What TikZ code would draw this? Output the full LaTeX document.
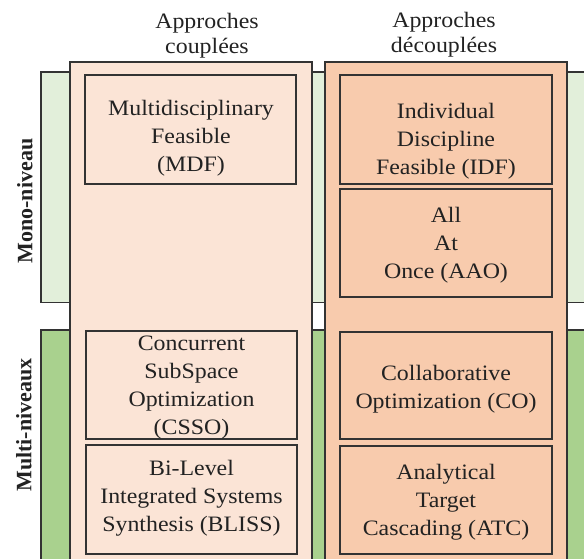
\documentclass[tikz,border=0pt]{standalone}
\usepackage{fontspec}
\setmainfont{Liberation Serif}[FakeStretch=1.085]
\newfontfamily\vfont{Liberation Serif}
\definecolor{monogreen}{HTML}{E2EFDA}
\definecolor{multigreen}{HTML}{A9D18E}
\definecolor{colA}{HTML}{FBE4D6}
\definecolor{colB}{HTML}{F8CBAD}
\definecolor{edge}{HTML}{333333}
\definecolor{ink}{HTML}{222222}
\newcommand\boxlines[1]{\begin{tabular}[t]{@{}c@{}}#1\end{tabular}}
\tikzset{
  band/.style={draw=edge, line width=1.1pt, rectangle, anchor=north west, inner sep=0pt, outer sep=0pt},
  column/.style={draw=edge, line width=1.1pt, rectangle, anchor=north west, inner sep=0pt, outer sep=0pt},
  methodbox/.style={draw=edge, line width=1.1pt, rectangle, anchor=north west, inner sep=0pt, outer sep=0pt},
  boxtext/.style={anchor=base, inner sep=0pt, text=ink, font=\fontsize{22}{28}\selectfont},
  headtext/.style={anchor=base, inner sep=0pt, text=ink, font=\fontsize{22}{25.5}\selectfont},
  sidetext/.style={rotate=90, inner sep=0pt, text=ink, font=\vfont\bfseries\fontsize{22}{26}\selectfont}
}
\begin{document}
\begin{tikzpicture}[x=1pt,y=-1pt]
\useasboundingbox (0,0) rectangle (584,558);
% level bands
\node[band, fill=monogreen, minimum width=600pt, minimum height=230.5pt] (mono) at (41,72) {};
\node[band, fill=multigreen, minimum width=600pt, minimum height=260pt] (multi) at (41,330) {};
% columns
\node[column, fill=colA, minimum width=242pt, minimum height=520pt] (coupled) at (70,62) {};
\node[column, fill=colB, minimum width=242pt, minimum height=520pt] (decoupled) at (325,62) {};
% method boxes
\node[methodbox, minimum width=211pt, minimum height=109pt] (mdf) at (85,75) {};
\node[methodbox, minimum width=211pt, minimum height=108pt] (csso) at (86,331) {};
\node[methodbox, minimum width=211pt, minimum height=109pt] (bliss) at (86,445) {};
\node[methodbox, minimum width=212pt, minimum height=109pt] (idf) at (340,75) {};
\node[methodbox, minimum width=212pt, minimum height=108pt] (aao) at (340,189) {};
\node[methodbox, minimum width=212pt, minimum height=107pt] (co) at (340,332) {};
\node[methodbox, minimum width=212pt, minimum height=108pt] (atc) at (340,446) {};
% texts
\node[boxtext] (mdftext) at (191,115) {\boxlines{Multidisciplinary\\Feasible\\(MDF)}};
\node[boxtext] (cssotext) at (191.5,350) {\boxlines{Concurrent\\SubSpace\\Optimization\\(CSSO)}};
\node[boxtext] (blisstext) at (191.5,475) {\boxlines{Bi-Level\\Integrated Systems\\Synthesis (BLISS)}};
\node[boxtext] (idftext) at (446,118) {\boxlines{Individual\\Discipline\\Feasible (IDF)}};
\node[boxtext] (aaotext) at (446,222) {\boxlines{All\\At\\Once (AAO)}};
\node[boxtext] (cotext) at (446,380) {\boxlines{Collaborative\\Optimization (CO)}};
\node[boxtext] (atctext) at (446,479) {\boxlines{Analytical\\Target\\Cascading (ATC)}};
% headers
\node[headtext] (headA) at (207,28) {\boxlines{Approches\\couplées}};
\node[headtext] (headB) at (444,27) {\boxlines{Approches\\découplées}};
% side labels
\node[sidetext] (monolabel) at (25,201) {Mono-niveau};
\node[sidetext] (multilabel) at (24,425) {Multi-niveaux};
\end{tikzpicture}
\end{document}
